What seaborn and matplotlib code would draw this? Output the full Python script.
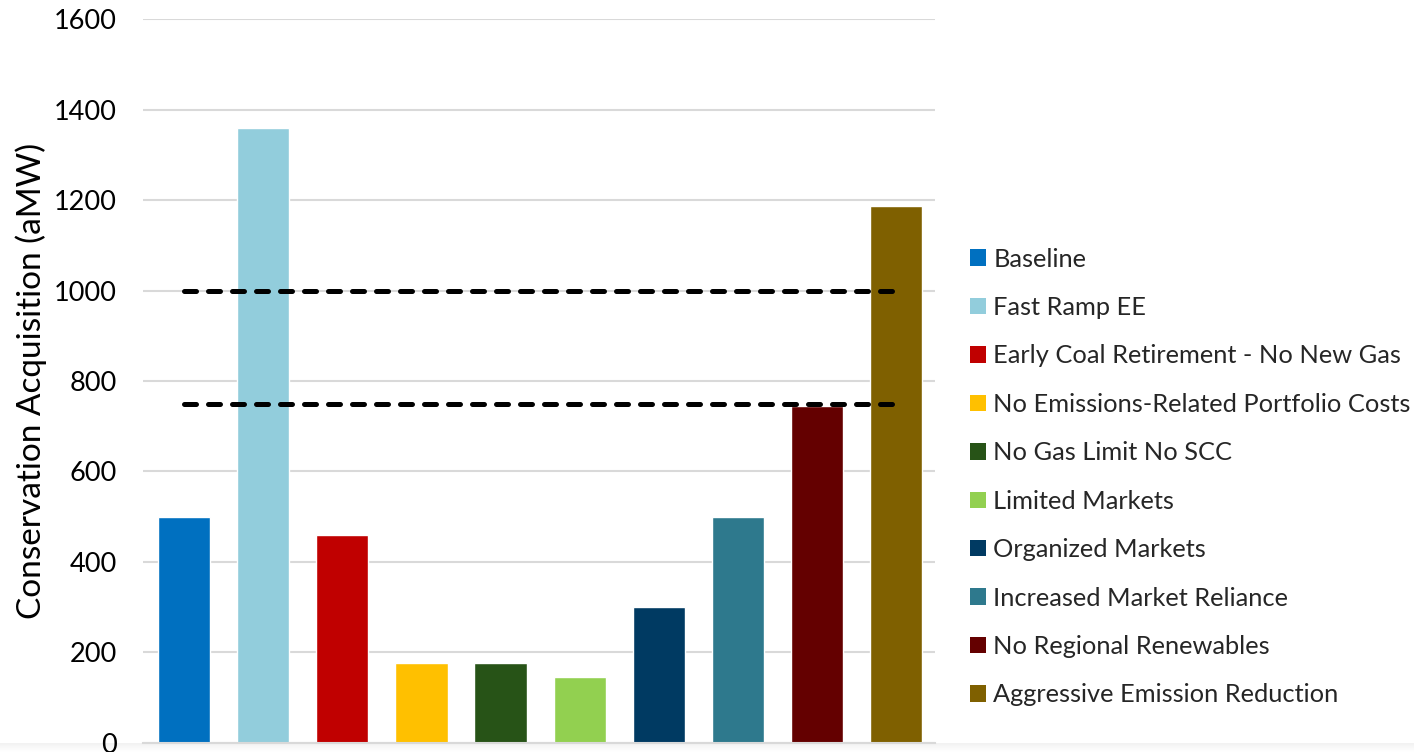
import matplotlib
matplotlib.use("Agg")
import matplotlib.pyplot as plt
from matplotlib.patches import Patch
import numpy as np
import pandas as pd
import seaborn as sns

# Scenario results
scenarios = [
    "Baseline",
    "Fast Ramp EE",
    "Early Coal Retirement - No New Gas",
    "No Emissions-Related Portfolio Costs",
    "No Gas Limit No SCC",
    "Limited Markets",
    "Organized Markets",
    "Increased Market Reliance",
    "No Regional Renewables",
    "Aggressive Emission Reduction",
]
acquisition_amw = [500, 1360, 460, 177, 177, 145, 300, 500, 745, 1187]
colors = [
    "#0070C0", "#92CDDC", "#C00000", "#FFC000", "#275317",
    "#92D050", "#003A62", "#2E798D", "#640000", "#7F6000",
]
# Reference range bounds drawn as dashed lines
range_bounds = [1000, 750]
y_ticks = [0, 200, 400, 600, 800, 1000, 1200, 1400, 1600]

sns.set_theme(style="white")
plt.rcParams["font.family"] = ["Lato", "DejaVu Sans"]

fig = plt.figure(figsize=(14.14, 7.52), dpi=100)

# Light gray band along the bottom edge (kept underneath the chart)
band = fig.add_axes([0, 0, 1, 0.012])
band.imshow(np.linspace(0.94, 1.0, 20).reshape(-1, 1),
            cmap="gray", vmin=0, vmax=1, aspect="auto", extent=[0, 1, 0, 1])
band.set_axis_off()
band.set_zorder(-1)

ax = fig.add_axes([0.1011, 0.012, 0.5601, 0.9627])
ax.set_zorder(1)
ax.patch.set_alpha(0)

df = pd.DataFrame({"scenario": scenarios, "amw": acquisition_amw})
sns.barplot(data=df, x="scenario", y="amw", hue="scenario",
            palette=colors, legend=False, width=0.66, saturation=1,
            ax=ax, zorder=2)

for b in range_bounds:
    ax.plot([0, len(scenarios) - 1], [b, b], color="black", lw=3.6,
            linestyle=(0, (2.4, 2.4)), dash_capstyle="round",
            solid_capstyle="round", zorder=4)

ax.set_xlim(-0.52, 9.49)
ax.set_ylim(0, 1600)
ax.set_yticks(y_ticks)
ax.set_yticklabels([str(t) for t in y_ticks], fontsize=19.5, color="black")
ax.tick_params(axis="y", length=0, pad=19)
ax.set_xticks([])
ax.set_xlabel("")
ax.set_ylabel("Conservation Acquisition (aMW)", fontsize=24, color="black",
              labelpad=5)
ax.yaxis.grid(True, color="#d9d9d9", lw=1.5, zorder=0)
ax.set_axisbelow(True)
for s in ["top", "right", "left"]:
    ax.spines[s].set_visible(False)
ax.spines["bottom"].set_color("#d9d9d9")
ax.spines["bottom"].set_linewidth(1.5)

handles = [Patch(facecolor=c, edgecolor="none") for c in colors]
fig.legend(handles, scenarios, loc="center left",
           bbox_to_anchor=(0.686, 0.3657), frameon=False, fontsize=18.3,
           handlelength=0.62, handleheight=0.62, handletextpad=0.3,
           labelspacing=1.0, borderpad=0, borderaxespad=0)

fig.savefig("out.png", dpi=100)
